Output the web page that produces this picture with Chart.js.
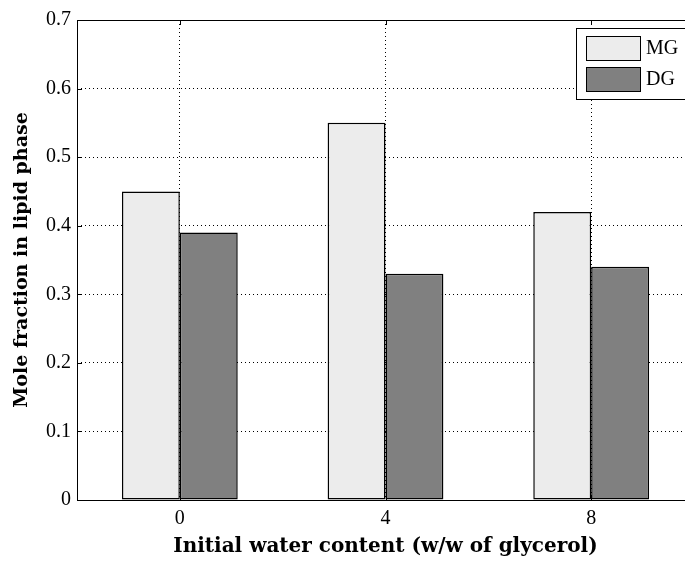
<!DOCTYPE html>
<html><head><meta charset="utf-8">
<style>html,body{margin:0;padding:0;background:#fff;overflow:hidden;width:685px;height:565px}canvas{display:block}</style>
<script src="https://cdn.jsdelivr.net/npm/chart.js@4"></script>
</head><body>
<div style="width:700px;height:565px"><canvas id="c" width="700" height="565"></canvas></div>
<script>
const categories = ['0', '4', '8'];
const seriesNames = ['MG', 'DG'];
const mgValues = [0.45, 0.55, 0.42];
const dgValues = [0.39, 0.33, 0.34];
const yTicks = [0, 0.1, 0.2, 0.3, 0.4, 0.5, 0.6, 0.7];
const colors = ['#ececec', '#808080'];
const FONT = '"Liberation Serif", serif';
const TFONT = '"DejaVu Serif", serif';

const boxPlugin = {
  id: 'box',
  afterDatasetsDraw(chart) {
    const {ctx, chartArea: a} = chart;
    ctx.save();
    ctx.strokeStyle = '#000';
    ctx.lineWidth = 1;
    ctx.strokeRect(Math.round(a.left) + 0.5, Math.round(a.top) + 0.5, Math.round(a.right - a.left), Math.round(a.bottom - a.top));
    const ys = chart.scales.y;
    yTicks.forEach(v => {
      const y = Math.round(ys.getPixelForValue(v)) + 0.5;
      ctx.beginPath(); ctx.moveTo(a.left, y); ctx.lineTo(a.left + 5, y); ctx.stroke();
    });
    const xs = chart.scales.x;
    categories.forEach((c, i) => {
      const x = Math.round(xs.getPixelForValue(i)) + 0.5;
      ctx.beginPath(); ctx.moveTo(x, a.top); ctx.lineTo(x, a.top + 5); ctx.stroke();
      ctx.beginPath(); ctx.moveTo(x, a.bottom); ctx.lineTo(x, a.bottom - 5); ctx.stroke();
    });
    // legend
    const lx = 576.5, ly = 28.5, lw = 130, lh = 71;
    ctx.fillStyle = '#fff';
    ctx.fillRect(lx, ly, lw, lh);
    ctx.strokeRect(lx, ly, lw, lh);
    chart.data.datasets.forEach((ds, i) => {
      const sy = 36.5 + i * 31;
      ctx.fillStyle = ds.backgroundColor;
      ctx.fillRect(586.5, sy, 54, 24);
      ctx.strokeStyle = '#000';
      ctx.strokeRect(586.5, sy, 54, 24);
      ctx.fillStyle = '#000';
      ctx.font = '20px ' + FONT;
      ctx.textBaseline = 'middle';
      ctx.textAlign = 'left';
      ctx.fillText(ds.label, 646, sy + 12);
    });
    ctx.restore();
  }
};

new Chart(document.getElementById('c'), {
  type: 'bar',
  data: {
    labels: categories,
    datasets: [
      {label: seriesNames[0], data: mgValues, backgroundColor: colors[0], borderColor: '#000', borderWidth: 1.5, borderSkipped: false},
      {label: seriesNames[1], data: dgValues, backgroundColor: colors[1], borderColor: '#000', borderWidth: 1.5, borderSkipped: false}
    ]
  },
  options: {
    responsive: false,
    animation: false,
    devicePixelRatio: 1,
    layout: {padding: {top: 20, left: 0, right: 6, bottom: 0}},
    categoryPercentage: 0.563,
    barPercentage: 1,
    plugins: {legend: {display: false}, tooltip: {enabled: false}},
    scales: {
      x: {
        grid: {offset: false, color: '#000', lineWidth: 1, drawTicks: false},
        border: {display: false, dash: [1, 3]},
        ticks: {color: '#000', padding: 7, font: {family: FONT, size: 20}},
        title: {display: true, text: 'Initial water content (w/w of glycerol)', color: '#000', font: {family: TFONT, size: 20, weight: 'bold'}, padding: {top: 0, bottom: 6}},
        afterFit(s) { s.height = 65; }
      },
      y: {
        min: 0, max: 0.7,
        afterBuildTicks(s) { s.ticks = yTicks.map(v => ({value: v})); },
        grid: {color: '#000', lineWidth: 1, drawTicks: false},
        border: {display: false, dash: [1, 3]},
        ticks: {color: '#000', padding: 6, font: {family: FONT, size: 20}, callback: v => String(v)},
        title: {display: true, text: 'Mole fraction in lipid phase', color: '#000', font: {family: TFONT, size: 19, weight: 'bold'}, padding: {top: 11, bottom: 0}},
        afterFit(s) { s.width = 77; }
      }
    }
  },
  plugins: [boxPlugin]
});
</script>
</body></html>
